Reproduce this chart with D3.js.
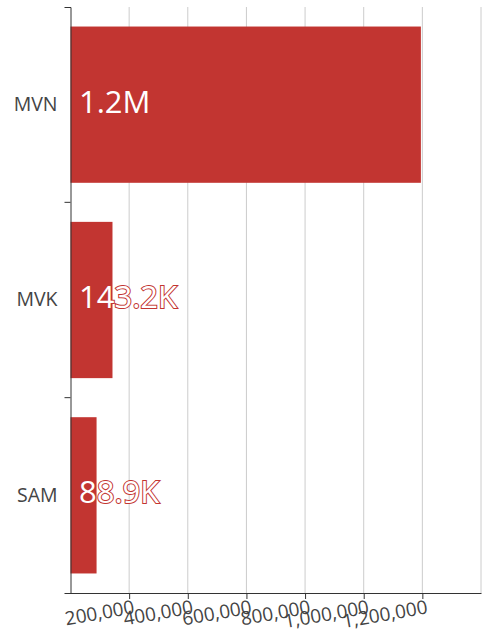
<!DOCTYPE html>
<html>
<head>
<meta charset="utf-8">
<script src="https://cdn.jsdelivr.net/npm/d3@7"></script>
<style>
  body { margin: 0; background: #fff; }
  svg { display: block; }
  svg text { font-family: "Open Sans", sans-serif; }
</style>
</head>
<body>
<script>
var categories = ['MVN', 'MVK', 'SAM'];
var values = [1195000, 143200, 88900];
var valueLabels = ['1.2M', '143.2K', '88.9K'];
var xTicks = [200000, 400000, 600000, 800000, 1000000, 1200000];
var gridTicks = [200000, 400000, 600000, 800000, 1000000, 1200000, 1400000];

var width = 485;
var height = 629;
var barColor = '#c23531';

var svg = d3.select('body').append('svg')
  .attr('width', width)
  .attr('height', height);

var x = d3.scaleLinear()
  .domain([0, 1400000])
  .range([70.5, 481]);

var y = d3.scaleBand()
  .domain(categories)
  .range([7, 593])
  .paddingInner(0.2)
  .paddingOuter(0.1);

// grid lines behind bars
svg.append('g')
  .selectAll('line')
  .data(gridTicks)
  .enter().append('line')
  .attr('x1', function (d) { return x(d); })
  .attr('x2', function (d) { return x(d); })
  .attr('y1', 7)
  .attr('y2', 593)
  .attr('stroke', '#ccc')
  .attr('stroke-width', 1);

// bars
svg.append('g')
  .selectAll('rect')
  .data(categories)
  .enter().append('rect')
  .attr('x', x(0))
  .attr('y', function (d) { return y(d); })
  .attr('width', function (d, i) { return x(values[i]) - x(0); })
  .attr('height', y.bandwidth())
  .attr('fill', barColor);

// x axis
var xAxis = svg.append('g')
  .attr('transform', 'translate(0,593)')
  .call(d3.axisBottom(x)
    .tickValues(xTicks)
    .tickSizeOuter(0)
    .tickFormat(d3.format(',')));

xAxis.attr('font-family', null).attr('font-size', null);
xAxis.select('.domain').attr('stroke', '#333');
xAxis.selectAll('.tick line').attr('stroke', '#333');
xAxis.selectAll('.tick text')
  .attr('fill', '#444')
  .style('font-size', '19px')
  .attr('text-anchor', 'end')
  .attr('x', 2)
  .attr('y', 0)
  .attr('dy', '1.1em')
  .attr('transform', 'rotate(-10)');

// y axis
var yAxis = svg.append('g')
  .attr('transform', 'translate(70.5,0)')
  .call(d3.axisLeft(y).tickSizeInner(0).tickSizeOuter(6).tickPadding(13));

yAxis.attr('font-family', null).attr('font-size', null);
yAxis.select('.domain').attr('stroke', '#333');
yAxis.selectAll('.tick text')
  .attr('fill', '#444')
  .style('font-size', '19.5px');

// separators between bands
var step = y.step();
svg.append('g')
  .selectAll('line')
  .data(categories.slice(1))
  .enter().append('line')
  .attr('x1', 64.5)
  .attr('x2', 70.5)
  .attr('y1', function (d) { return y(d) - step * 0.1; })
  .attr('y2', function (d) { return y(d) - step * 0.1; })
  .attr('stroke', '#333');

// value labels
svg.append('g')
  .selectAll('text')
  .data(categories)
  .enter().append('text')
  .attr('x', 79)
  .attr('y', function (d) { return y(d) + y.bandwidth() / 2 + 8; })
  .attr('fill', '#fff')
  .attr('stroke', barColor)
  .attr('stroke-width', 2)
  .attr('paint-order', 'stroke')
  .style('font-size', '31px')
  .text(function (d, i) { return valueLabels[i]; });
</script>
</body>
</html>
